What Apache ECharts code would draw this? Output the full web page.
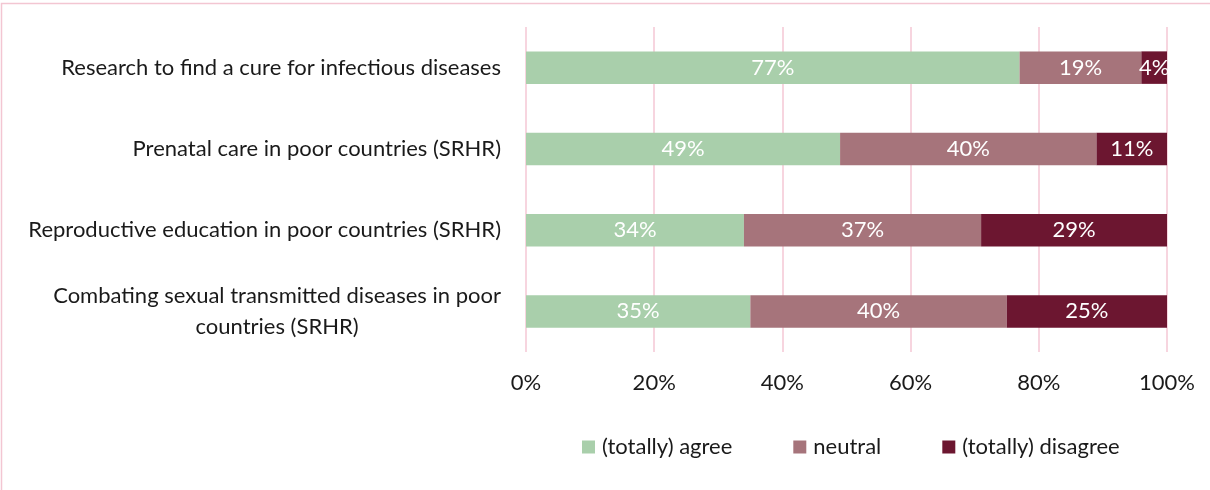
<!DOCTYPE html>
<html>
<head>
<meta charset="utf-8">
<script src="https://cdn.jsdelivr.net/npm/echarts@6/dist/echarts.min.js"></script>
<style>
  html, body { margin: 0; padding: 0; background: #fff; }
  #chart { width: 1210px; height: 490px; }
</style>
</head>
<body>
<div id="chart"></div>
<script>
// Survey statements (top to bottom)
const categories = [
  'Research to find a cure for infectious diseases',
  'Prenatal care in poor countries (SRHR)',
  'Reproductive education in poor countries (SRHR)',
  'Combating sexual transmitted diseases in poor\ncountries (SRHR)'
];
// Share of respondents, percent
const agree = [77, 49, 34, 35];
const neutral = [19, 40, 37, 40];
const disagree = [4, 11, 29, 25];
const seriesNames = ['(totally) agree', 'neutral', '(totally) disagree'];
const xTicks = [0, 20, 40, 60, 80, 100];

const FONT = 'Lato, "Open Sans", sans-serif';
const FS = 22;
const colors = ['#a9cfab', '#a6747b', '#6c1630'];

function barSeries(name, data, color) {
  return {
    name: name,
    type: 'bar',
    stack: 'total',
    data: data,
    barCategoryGap: '60%',
    itemStyle: { color: color },
    label: {
      show: true,
      position: 'inside',
      color: '#ffffff',
      fontFamily: FONT,
      fontSize: FS,
      formatter: p => p.value + '%'
    }
  };
}

const chart = echarts.init(document.getElementById('chart'), null, { renderer: 'canvas' });
chart.setOption({
  animation: false,
  textStyle: { fontFamily: FONT },
  graphic: [{
    type: 'rect',
    shape: { x: 1.5, y: 3.5, width: 1400, height: 700 },
    style: { fill: 'none', stroke: '#f3c6d2', lineWidth: 1.5 },
    silent: true,
    z: -10
  }],
  grid: { left: 526, right: 43, top: 27, bottom: 138, containLabel: false },
  legend: {
    data: seriesNames,
    left: 577,
    top: 431,
    itemWidth: 13,
    itemHeight: 13,
    itemGap: 61,
    icon: 'rect',
    textStyle: { fontFamily: FONT, fontSize: FS, color: '#1a1a1a', padding: [0, 0, 0, 2] }
  },
  xAxis: {
    type: 'value',
    min: xTicks[0],
    max: xTicks[xTicks.length - 1],
    interval: 20,
    axisLine: { show: false },
    axisTick: { show: false },
    splitLine: { lineStyle: { color: '#f4c7d4', width: 1.5 } },
    axisLabel: {
      margin: 20,
      fontFamily: FONT,
      fontSize: FS,
      color: '#1a1a1a',
      formatter: v => v + '%'
    }
  },
  yAxis: {
    type: 'category',
    data: categories,
    inverse: true,
    axisLine: { show: false },
    axisTick: { show: false },
    axisLabel: {
      margin: 25,
      fontFamily: FONT,
      fontSize: FS,
      color: '#1a1a1a',
      lineHeight: 31,
      formatter: v => v.split('\n').map(s => '{c|' + s + '}').join('\n'),
      rich: { c: { align: 'center', fontFamily: FONT, fontSize: FS, color: '#1a1a1a', lineHeight: 31 } }
    }
  },
  series: [
    barSeries(seriesNames[0], agree, colors[0]),
    barSeries(seriesNames[1], neutral, colors[1]),
    barSeries(seriesNames[2], disagree, colors[2])
  ]
});
</script>
</body>
</html>
